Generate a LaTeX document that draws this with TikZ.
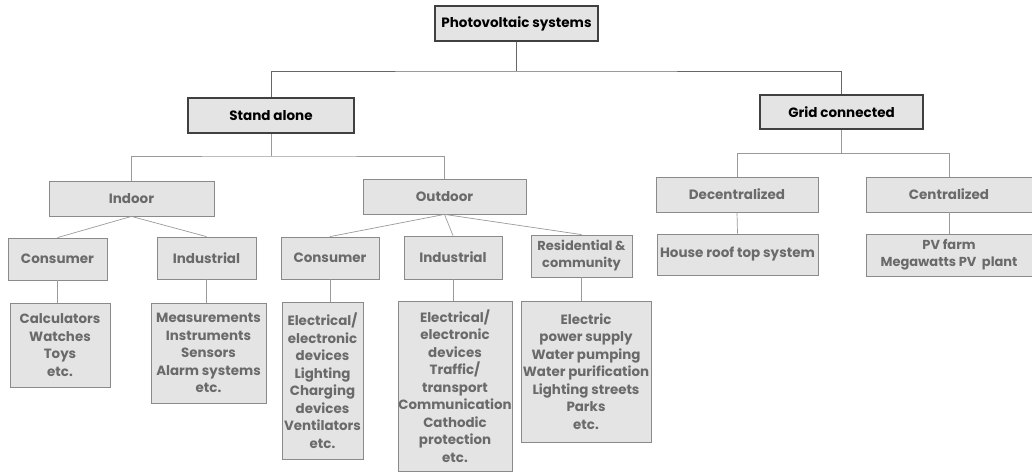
\documentclass[tikz,border=0pt]{standalone}
\usepackage{fontspec}
\setmainfont{Poppins}
\definecolor{boxfill}{HTML}{E4E4E4}
\definecolor{boxline}{HTML}{8A8A8A}
\definecolor{txtgray}{HTML}{6A6A6A}
\definecolor{linegray}{HTML}{9A9A9A}
\tikzset{
  box/.style={draw=boxline, fill=boxfill, line width=0.8pt, inner sep=0pt, align=center,
    font=\fontsize{13.5}{18}\selectfont\bfseries, text=txtgray},
  listbox/.style={box, font=\fontsize{13.4}{17.5}\selectfont\bfseries},
  topbox/.style={box, draw=black!75, line width=1.2pt, text=black,
    font=\fontsize{13.5}{16}\selectfont\bfseries},
  conn/.style={draw=linegray, line width=0.7pt},
  topconn/.style={draw=black!60, line width=0.9pt}
}
\begin{document}
\begin{tikzpicture}[x=1pt,y=-1pt]
\useasboundingbox (0,0) rectangle (1032,473);
% level 0
\node[topbox, minimum width=163pt, minimum height=35pt] (pv) at (516.5,23.5) {Photovoltaic systems};
% level 1
\node[topbox, minimum width=166pt, minimum height=35pt] (sa) at (271,115.5) {Stand alone};
\node[topbox, minimum width=163pt, minimum height=34pt] (gc) at (841.5,112) {Grid connected};
% level 2
\node[box, minimum width=165pt, minimum height=35pt] (indoor) at (131.5,198.5) {Indoor};
\node[box, minimum width=163pt, minimum height=35pt] (outdoor) at (444.5,196.5) {Outdoor};
\node[box, minimum width=162pt, minimum height=35pt] (dec) at (737,194.5) {Decentralized};
\node[box, minimum width=166pt, minimum height=35pt] (cen) at (949,194.5) {Centralized};
% level 3
\node[box, minimum width=99pt, minimum height=42pt] (con1) at (57.5,259) {Consumer};
\node[box, minimum width=99pt, minimum height=42pt] (ind1) at (206.5,258) {Industrial};
\node[box, minimum width=98pt, minimum height=42pt] (con2) at (330,258) {Consumer};
\node[box, minimum width=98pt, minimum height=43pt] (ind2) at (453,257.5) {Industrial};
\node[box, minimum width=101pt, minimum height=42pt, font=\fontsize{13}{17}\selectfont\bfseries] (res) at (581.5,256) {Residential \&\\community};
\node[box, minimum width=161pt, minimum height=41pt] (house) at (737.5,254.5) {House roof top system};
\node[box, minimum width=166pt, minimum height=42pt, font=\fontsize{13}{17}\selectfont\bfseries] (farm) at (949,255) {PV farm\\Megawatts PV\ \ plant};
% level 4
\node[listbox, minimum width=100pt, minimum height=84pt] (l1) at (60,345) {Calculators\\Watches\\Toys\\etc.};
\node[listbox, minimum width=115pt, minimum height=100pt] (l2) at (208.5,353) {Measurements\\Instruments\\Sensors\\Alarm systems\\etc.};
\node[listbox, minimum width=81pt, minimum height=157pt] (l3) at (322.5,380.5) {Electrical/\\electronic\\devices\\Lighting\\Charging\\devices\\Ventilators\\etc.};
\node[listbox, minimum width=114pt, minimum height=170pt] (l4) at (455,386) {Electrical/\\electronic\\devices\\Traffic/\\transport\\Communication\\Cathodic\\protection\\etc.};
\node[listbox, minimum width=130pt, minimum height=141pt] (l5) at (586,371.5) {Electric\\power supply\\Water pumping\\Water purification\\Lighting streets\\Parks\\etc.};
% connectors
\coordinate (j0) at (516.5,71);
\coordinate (j1) at (271,156);
\coordinate (j2) at (737,153);
\draw[topconn] (pv.south) -- (j0);
\draw[topconn] (sa.north) |- (j0) -| (gc.north);
\draw[conn] (sa.south) -- (j1);
\draw[conn] (indoor.north) |- (j1) -| (outdoor.north);
\draw[conn] (gc.south) |- (j2);
\draw[conn] (dec.north) |- (j2) -| (cen.north);
\draw[conn] (indoor.south) -- (con1.north);
\draw[conn] (indoor.south) -- (ind1.north);
\draw[conn] (outdoor.south) -- (con2.north);
\draw[conn] (outdoor.south) -- (ind2.north);
\draw[conn] (outdoor.south) -- (res.north);
\draw[conn] (dec.south) -- (house.north);
\draw[conn] (cen.south) -- (farm.north);
\draw[conn] (con1.south) -- (l1.north -| con1.south);
\draw[conn] (ind1.south) -- (l2.north -| ind1.south);
\draw[conn] (con2.south) -- (l3.north -| con2.south);
\draw[conn] (ind2.south) -- (l4.north -| ind2.south);
\draw[conn] (res.south) -- (l5.north -| res.south);
\end{tikzpicture}
\end{document}
